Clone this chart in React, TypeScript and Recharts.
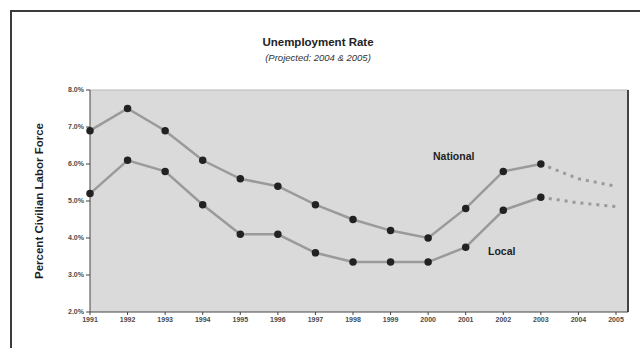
import { LineChart, Line, XAxis, YAxis, CartesianGrid, Label } from "recharts";

const years = ["1991", "1992", "1993", "1994", "1995", "1996", "1997", "1998", "1999", "2000", "2001", "2002", "2003", "2004", "2005"];
const national = [6.9, 7.5, 6.9, 6.1, 5.6, 5.4, 4.9, 4.5, 4.2, 4.0, 4.8, 5.8, 6.0, 5.6, 5.4];
const local = [5.2, 6.1, 5.8, 4.9, 4.1, 4.1, 3.6, 3.35, 3.35, 3.35, 3.75, 4.75, 5.1, 4.95, 4.85];
const lastActual = "2003";
const yTicks = [2, 3, 4, 5, 6, 7, 8];

const actualIdx = years.indexOf(lastActual);
const data = years.map((year, i) => ({
  year,
  national: i <= actualIdx ? national[i] : null,
  local: i <= actualIdx ? local[i] : null,
  nationalProj: i >= actualIdx ? national[i] : null,
  localProj: i >= actualIdx ? local[i] : null,
}));

const font = "'Liberation Sans', Arial, sans-serif";
const lineColor = "#9a9a9a";

export default function App() {
  return (
    <div style={{ position: "absolute", left: 0, top: 0, width: 640, height: 348, overflow: "hidden", background: "#fff", fontFamily: font }}>
      <div style={{ position: "absolute", left: 10, top: 10, width: 700, height: 400, borderLeft: "2px solid #3c3c3c", borderTop: "2px solid #3c3c3c" }} />
      <div style={{ position: "absolute", left: 0, top: 0 }}>
        <LineChart width={640} height={348} data={data} margin={{ top: 89, right: 11, bottom: 16, left: 0 }}>
          <CartesianGrid yAxisId="l" xAxisId="b" horizontal={false} vertical={false} fill="#dadada" />
          <XAxis
            xAxisId="b"
            dataKey="year"
            padding={{ left: 0, right: 12 }}
            height={20}
            interval={0}
            tick={{ fontSize: 7, fill: "#4a4a4a", fontFamily: font, fontWeight: "bold" }}
            tickSize={3}
            axisLine={{ stroke: "#444" }}
            tickLine={{ stroke: "#444" }}
          />
          <XAxis xAxisId="t" orientation="top" dataKey="year" height={1} tick={false} tickLine={false} axisLine={{ stroke: "#b8b8b8" }} />
          <YAxis
            yAxisId="l"
            width={90}
            domain={[2, 8]}
            ticks={yTicks}
            tickFormatter={(v: number) => v.toFixed(1) + "%"}
            tick={{ fontSize: 7, fill: "#4a4a4a", fontFamily: font, fontWeight: "bold" }}
            tickSize={4}
            axisLine={{ stroke: "#444" }}
            tickLine={{ stroke: "#444" }}
          >
            <Label
              value="Percent Civilian Labor Force"
              angle={-90}
              position="insideLeft"
              offset={39}
              style={{ textAnchor: "middle", fontSize: 11.5, fontWeight: "bold", fill: "#1e1e1e", fontFamily: font }}
            />
          </YAxis>
          <YAxis yAxisId="r" orientation="right" width={1} tick={false} tickLine={false} axisLine={{ stroke: "#444", strokeWidth: 2 }} />
          <Line xAxisId="b" yAxisId="l" type="linear" dataKey="national" stroke={lineColor} strokeWidth={2.5} dot={{ r: 2.5, fill: "#222", stroke: "#222" }} isAnimationActive={false} connectNulls={false} />
          <Line xAxisId="b" yAxisId="l" type="linear" dataKey="local" stroke={lineColor} strokeWidth={2.5} dot={{ r: 2.5, fill: "#222", stroke: "#222" }} isAnimationActive={false} connectNulls={false} />
          <Line xAxisId="b" yAxisId="l" type="linear" dataKey="nationalProj" stroke={lineColor} strokeWidth={3} strokeDasharray="3 5" dot={false} isAnimationActive={false} />
          <Line xAxisId="b" yAxisId="l" type="linear" dataKey="localProj" stroke={lineColor} strokeWidth={3} strokeDasharray="3 5" dot={false} isAnimationActive={false} />
        </LineChart>
      </div>
      <div style={{ position: "absolute", left: 0, width: 636, top: 36, textAlign: "center", fontSize: 11.5, fontWeight: "bold", color: "#222" }}>
        Unemployment Rate
      </div>
      <div style={{ position: "absolute", left: 0, width: 636, top: 52, textAlign: "center", fontSize: 9.5, fontStyle: "italic", color: "#333" }}>
        (Projected: 2004 &amp; 2005)
      </div>
      <div style={{ position: "absolute", left: 433, top: 150, fontSize: 10.5, fontWeight: "bold", color: "#222" }}>National</div>
      <div style={{ position: "absolute", left: 488, top: 245, fontSize: 10.5, fontWeight: "bold", color: "#222" }}>Local</div>
    </div>
  );
}
